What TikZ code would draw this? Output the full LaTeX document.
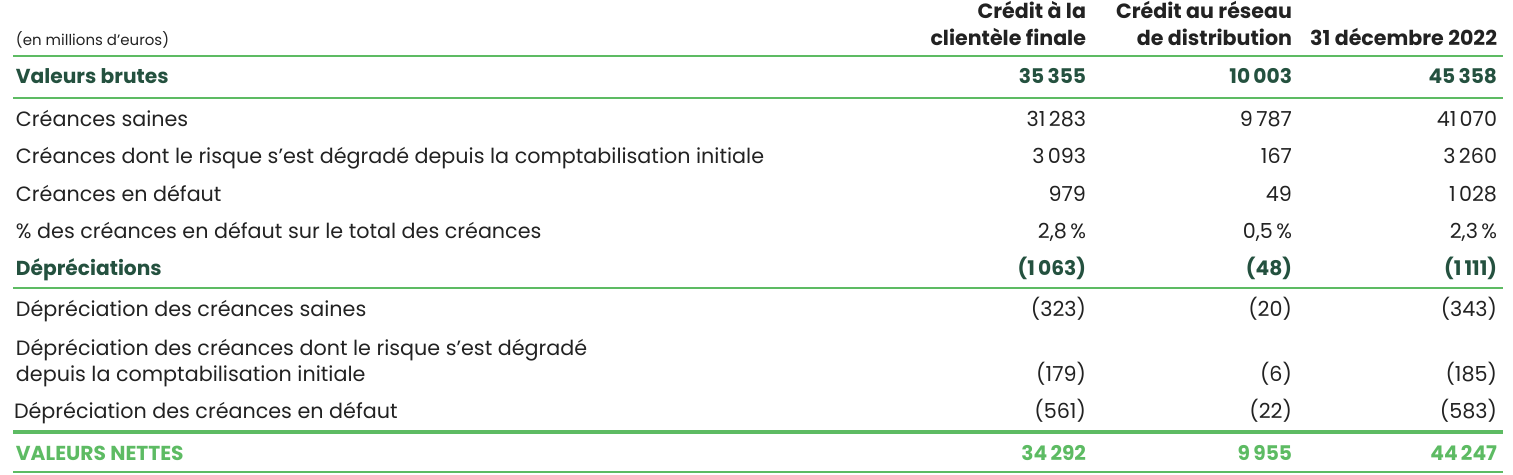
\documentclass[tikz,border=0pt]{standalone}
\usepackage{fontspec}
\setmainfont{Poppins}
\definecolor{txt}{HTML}{222222}
\definecolor{dgreen}{HTML}{24513F}
\definecolor{lgreen}{HTML}{5DBB63}
\newcommand{\ts}{\hspace{0.16em}}
\begin{document}
\begin{tikzpicture}[x=1pt,y=-1pt,
  every node/.style={inner sep=0pt,outer sep=0pt,text=txt,font=\fontsize{20.7}{24}\selectfont},
  lab/.style={anchor=base west},
  num/.style={anchor=base east},
  hd/.style={anchor=base east,font=\fontsize{20.6}{24}\selectfont\bfseries},
  grp/.style={text=dgreen,font=\fontsize{20.2}{24}\selectfont\bfseries},
  net/.style={text=lgreen,font=\fontsize{20.2}{24}\selectfont\bfseries},
  rule/.style={draw=lgreen,line width=#1}]
\useasboundingbox (0,0) rectangle (1513,474);
% header
\node[lab,font=\fontsize{15}{16}\selectfont] (unit) at (16,45) {(en millions d’euros)};
\node[hd] (h1a) at (1086,18) {Crédit à la};
\node[hd] (h1b) at (1086,45) {clientèle finale};
\node[hd] (h2a) at (1292,18) {Crédit au réseau};
\node[hd] (h2b) at (1292,45) {de distribution};
\node[hd] (h3) at (1497,45) {31 décembre 2022};
% rules
\coordinate (L1) at (13,56);   \coordinate (R1) at (1503,56);
\coordinate (L2) at (13,97.5); \coordinate (R2) at (1503,97.5);
\coordinate (L3) at (13,288);  \coordinate (R3) at (1503,288);
\coordinate (L4) at (13,432);  \coordinate (R4) at (1503,432);
\coordinate (L5) at (13,472);  \coordinate (R5) at (1503,472);
\draw[rule=2.6pt] (L1) -- (R1);
\draw[rule=2pt] (L2) -- (R2);
\draw[rule=2pt] (L3) -- (R3);
\draw[rule=3.4pt] (L4) -- (R4);
\draw[rule=2pt] (L5) -- (R5);
% Valeurs brutes
\node[lab,grp] (vb) at (16,83) {Valeurs brutes};
\node[num,grp] (vb1) at (1086,83) {35\ts355};
\node[num,grp] (vb2) at (1292,83) {10\ts003};
\node[num,grp] (vb3) at (1497,83) {45\ts358};
% Créances saines
\node[lab] (cs) at (16,126.5) {Créances saines};
\node[num] (cs1) at (1086,126.5) {31\ts283};
\node[num] (cs2) at (1292,126.5) {9\ts787};
\node[num] (cs3) at (1497,126.5) {41\ts070};
% dégradé
\node[lab] (cd) at (16,163.5) {Créances dont le risque s’est dégradé depuis la comptabilisation initiale};
\node[num] (cd1) at (1086,163.5) {3\ts093};
\node[num] (cd2) at (1292,163.5) {167};
\node[num] (cd3) at (1497,163.5) {3\ts260};
% défaut
\node[lab] (ce) at (16,201) {Créances en défaut};
\node[num] (ce1) at (1086,201) {979};
\node[num] (ce2) at (1292,201) {49};
\node[num] (ce3) at (1497,201) {1\ts028};
% %
\node[lab] (cp) at (16,238) {\% des créances en défaut sur le total des créances};
\node[num] (cp1) at (1086,238) {2,8\ts\%};
\node[num] (cp2) at (1292,238) {0,5\ts\%};
\node[num] (cp3) at (1497,238) {2,3\ts\%};
% Dépréciations
\node[lab,grp] (dp) at (16,275) {Dépréciations};
\node[num,grp] (dp1) at (1086,275) {(1\ts063)};
\node[num,grp] (dp2) at (1292,275) {(48)};
\node[num,grp] (dp3) at (1497,275) {(1\ts111)};
% Dép saines
\node[lab] (ds) at (16,316) {Dépréciation des créances saines};
\node[num] (ds1) at (1086,316) {(323)};
\node[num] (ds2) at (1292,316) {(20)};
\node[num] (ds3) at (1497,316) {(343)};
% Dép dégradé
\node[lab] (dda) at (16,355) {Dépréciation des créances dont le risque s’est dégradé};
\node[lab] (ddb) at (16,381.5) {depuis la comptabilisation initiale};
\node[num] (dd1) at (1086,381.5) {(179)};
\node[num] (dd2) at (1292,381.5) {(6)};
\node[num] (dd3) at (1497,381.5) {(185)};
% Dép défaut
\node[lab] (de) at (14,418) {Dépréciation des créances en défaut};
\node[num] (de1) at (1086,418) {(561)};
\node[num] (de2) at (1292,418) {(22)};
\node[num] (de3) at (1497,418) {(583)};
% Valeurs nettes
\node[lab,net] (vn) at (16,460) {VALEURS NETTES};
\node[num,net] (vn1) at (1086,460) {34\ts292};
\node[num,net] (vn2) at (1292,460) {9\ts955};
\node[num,net] (vn3) at (1497,460) {44\ts247};
\end{tikzpicture}
\end{document}
